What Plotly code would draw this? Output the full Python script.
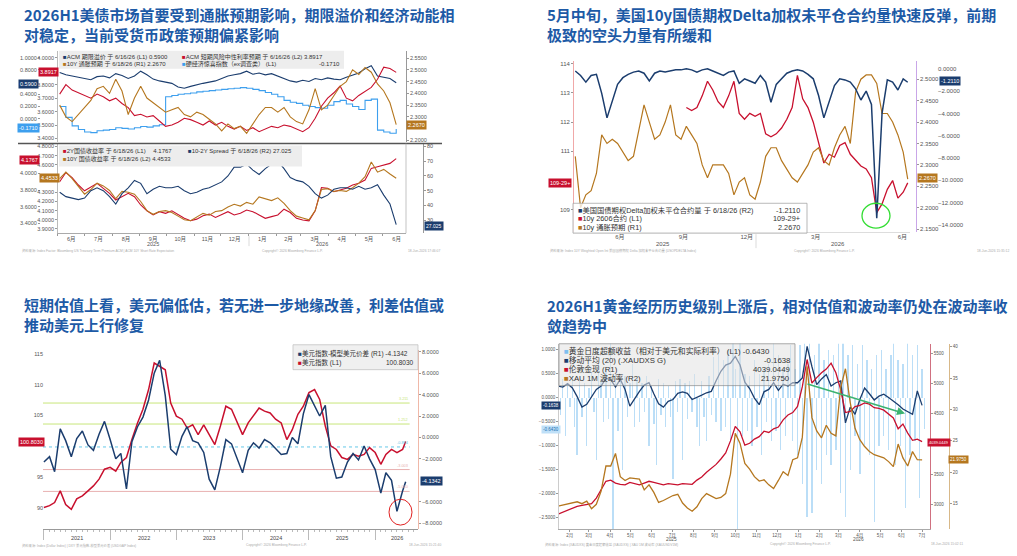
import plotly.graph_objects as go
import pandas as pd

W, H = 1017, 556

NAVY = "#1b3d6e"
RED = "#c8102e"
BROWN = "#b5771f"
LBLUE = "#3d9fee"
BARBLUE = "rgba(120,190,240,0.5)"
TITLE_C = "#1d5aa6"
FONT = "Liberation Sans, Noto Sans CJK SC, sans-serif"

# ---------------- panel 1 (top-left): weekly ----------------
p1_dates = pd.date_range("2025-06-03", periods=55, freq="7D")
p1_acm_tp = [0.76, 0.72, 0.70, 0.68, 0.66, 0.64, 0.69, 0.70, 0.67, 0.74,
             0.71, 0.66, 0.70, 0.78, 0.72, 0.65, 0.62, 0.60, 0.58, 0.52,
             0.50, 0.53, 0.56, 0.58, 0.60, 0.62, 0.66, 0.70, 0.72, 0.74,
             0.78, 0.73, 0.75, 0.72, 0.74, 0.70, 0.66, 0.62, 0.60, 0.63,
             0.61, 0.66, 0.64, 0.67, 0.65, 0.64, 0.68, 0.72, 0.75, 0.82,
             0.87, 0.70, 0.68, 0.66, 0.59]
p1_acm_sr = [3.73, 3.80, 3.76, 3.74, 3.72, 3.70, 3.73, 3.71, 3.68, 3.70,
             3.66, 3.63, 3.57, 3.58, 3.56, 3.57, 3.53, 3.49, 3.50, 3.52,
             3.55, 3.54, 3.52, 3.50, 3.53, 3.50, 3.52, 3.49, 3.47, 3.49,
             3.46, 3.48, 3.45, 3.47, 3.49, 3.48, 3.50, 3.49, 3.47, 3.45,
             3.48, 3.55, 3.64, 3.70, 3.74, 3.79, 3.70, 3.68, 3.72, 3.75,
             3.78, 3.84, 3.93, 3.92, 3.8917]
p1_be10 = [2.35, 2.30, 2.28, 2.31, 2.34, 2.37, 2.42, 2.43, 2.40, 2.46,
           2.41, 2.31, 2.38, 2.43, 2.38, 2.36, 2.34, 2.32, 2.33, 2.34,
           2.31, 2.30, 2.32, 2.31, 2.29, 2.27, 2.24, 2.27, 2.25, 2.26,
           2.23, 2.27, 2.31, 2.34, 2.34, 2.32, 2.34, 2.30, 2.28, 2.27,
           2.33, 2.42, 2.33, 2.35, 2.39, 2.43, 2.45, 2.50, 2.48, 2.51,
           2.49, 2.44, 2.41, 2.36, 2.267]
p1_hard = [0.20, 0.02, -0.12, -0.18, -0.22, -0.23, -0.20, -0.19, -0.18, -0.15,
           -0.16, -0.17, -0.15, -0.13, -0.14, -0.12, -0.10, 0.36, 0.38, 0.40,
           0.41, 0.42, 0.44, 0.45, 0.46, 0.47, 0.48, 0.49, 0.50, 0.51,
           0.50, 0.48, 0.46, 0.43, 0.40, 0.36, 0.30, 0.27, 0.25, 0.22,
           0.20, 0.18, 0.17, 0.22, 0.28, 0.30, 0.24, 0.20, 0.15, 0.30,
           0.32, -0.19, -0.22, -0.24, -0.171]
p1_y2 = [3.90, 4.01, 3.95, 3.86, 3.79, 3.84, 3.88, 3.82, 3.76, 3.68,
         3.72, 3.76, 3.72, 3.62, 3.55, 3.50, 3.54, 3.52, 3.55, 3.50,
         3.46, 3.43, 3.45, 3.49, 3.51, 3.47, 3.51, 3.54, 3.50, 3.52,
         3.56, 3.54, 3.50, 3.46, 3.48, 3.50, 3.57, 3.53, 3.46, 3.44,
         3.43, 3.55, 3.83, 3.82, 3.78, 3.80, 3.82, 3.86, 3.88, 3.92,
         4.06, 4.08, 4.10, 4.12, 4.1767]
p1_y10 = [4.45, 4.52, 4.45, 4.37, 4.28, 4.33, 4.40, 4.37, 4.32, 4.23,
          4.31, 4.30, 4.28, 4.20, 4.10, 4.06, 4.09, 4.10, 4.08, 4.04,
          4.00, 3.99, 4.03, 4.07, 4.05, 4.09, 4.10, 4.14, 4.17, 4.15,
          4.19, 4.17, 4.25, 4.23, 4.21, 4.24, 4.18, 4.10, 4.04, 4.02,
          4.00, 4.10, 4.33, 4.34, 4.31, 4.32, 4.31, 4.35, 4.40, 4.47,
          4.63, 4.52, 4.55, 4.50, 4.4533]
p1_spread = [49, 46, 45, 44, 45, 50, 52, 50, 46, 41,
             48, 52, 57, 55, 48, 51, 53, 52, 52, 53,
             50, 48, 49, 51, 52, 54, 56, 60, 66, 66,
             68, 64, 61, 65, 68, 70, 65, 59, 57, 56,
             53, 48, 45, 47, 51, 52, 52, 51, 53, 51,
             52, 54, 47, 41, 27.025]

# ---------------- panel 2 (top-right): weekly ----------------
p2_dates = list(pd.date_range("2025-04-04", periods=63, freq="7D")) + [pd.Timestamp("2026-06-18")]
p2_delta_oi = [-0.2, -0.6, -1.2, -0.6, -0.5, -2.2, -4.4, -3.0, -1.4, -0.8,
               -0.5, -0.3, -0.2, -0.4, -1.1, -0.4, -0.2, -0.3, -0.2, -0.1,
               -0.1, 0.0, -0.1, -0.3, -0.1, 0.0, -0.2, -0.4, -0.6, -0.3,
               -0.2, -1.3, -0.9, -1.1, -1.3, -0.6, -1.2, -3.0, -1.4, -0.9,
               -0.4, -0.2, -0.1, -0.2, -0.5, -0.9, -2.4, -4.4, -3.0, -1.5,
               -0.9, -1.0, -1.2, -1.8, -2.8, -2.0, -3.2, -13.4, -4.0, -1.0,
               -1.2, -1.9, -0.9, -1.211]
p2_fut = [None] * 21 + [
    112.5, 112.4, 112.5, 112.9, 113.4, 113.1, 112.7, 112.5, 112.9, 113.4,
    112.3, 112.1, 112.3, 112.2, 112.3, 111.6, 111.5, 111.6, 111.8, 112.1,
    112.5, 113.6, 112.8, 112.5, 112.0, 111.3, 110.6, 110.9, 110.8, 111.2,
    111.3, 110.9, 110.7, 110.5, 110.4, 110.1, 108.9, 109.2, 109.7, 110.0,
    109.4, 109.6, 109.92]
p2_be10 = [2.32, 2.20, 2.23, 2.24, 2.28, 2.37, 2.35, 2.36, 2.35, 2.33,
           2.31, 2.32, 2.38, 2.44, 2.40, 2.36, 2.37, 2.40, 2.44, 2.37,
           2.36, 2.39, 2.37, 2.35, 2.30, 2.27, 2.30, 2.30, 2.30, 2.28,
           2.23, 2.26, 2.27, 2.23, 2.22, 2.26, 2.32, 2.34, 2.34, 2.31,
           2.29, 2.27, 2.26, 2.28, 2.30, 2.33, 2.34, 2.31, 2.30, 2.34,
           2.37, 2.39, 2.35, 2.47, 2.50, 2.51, 2.51, 2.49, 2.42, 2.42,
           2.40, 2.37, 2.33, 2.267]
p2_tick_dates = ["2025-06-02", "2025-08-25", "2025-11-17", "2026-02-16", "2026-06-11"]
p2_tick_text = ["6月", "9月", "12月", "3月", "6月"]

# ---------------- panel 3 (bottom-left): monthly ----------------
p3_dates = list(pd.date_range("2021-01-01", periods=66, freq="MS")) + [pd.Timestamp("2026-06-18")]
p3_dxy = [90.1, 90.4, 90.9, 92.8, 90.6, 89.8, 91.5, 92.0, 92.8, 93.6,
          94.7, 96.3, 96.6, 96.0, 97.4, 98.2, 101.1, 103.8, 106.0, 109.2,
          113.5, 113.0, 112.4, 107.0, 104.9, 104.4, 103.0, 103.5, 101.9, 103.5,
          101.9, 100.3, 103.3, 106.5, 106.0, 104.1, 101.9, 103.8, 104.9, 106.2,
          105.7, 105.4, 104.4, 103.8, 101.1, 102.7, 105.2, 106.5, 108.7, 109.2,
          107.6, 103.3, 100.1, 99.5, 98.2, 97.9, 98.7, 98.4, 98.7, 99.8,
          99.0, 97.1, 98.7, 99.5, 99.0, 99.5, 100.803]
p3_gap = [-2.3, -1.8, -3.2, 0.8, -0.3, -1.8, -0.1, 0.6, -0.7, -1.2,
          0.3, 1.5, -0.2, -2.0, -1.5, -4.8, -0.4, 1.0, 1.9, 3.5,
          6.0, 7.2, 3.9, -1.1, -1.6, 0.1, 1.0, -0.3, -0.5, -1.4,
          -3.9, -4.9, -2.7, -0.2, -0.6, -2.0, -3.3, -1.2, -0.5, -1.0,
          -0.2, -0.5, -1.0, -1.6, -1.5, 0.0, -0.6, 2.2, 4.0, 2.9,
          2.0, 3.0, -1.8, -3.8, -3.7, -2.3, -1.5, -2.1, -0.8, -2.0,
          -3.0, -5.2, -3.3, -4.0, -6.9, -5.0, -4.1342]
p3_bands = [3.21, 1.25, -0.89, -3.00, -5.04]
p3_band_text = ["3.211", "1.252", "-0.894", "-3.003", "-5.040"]
p3_years = ["2021", "2022", "2023", "2024", "2025", "2026"]

# ---------------- panel 4 (bottom-right): weekly ----------------
p4_dates = pd.date_range("2025-01-15", periods=77, freq="7D")
p4_ma20 = [0.24, 0.22, 0.29, 0.20, 0.02, -0.20, -0.14, 0.03, 0.17, 0.24,
           0.40, 0.38, 0.22, 0.38, 0.17, -0.18, -0.01, 0.13, 0.26, 0.31,
           0.08, -0.13, -0.20, -0.08, -0.04, 0.09, 0.12, 0.09, -0.04, 0.00,
           0.05, 0.10, 0.13, 0.35, 0.55, 0.68, 0.72, 0.86, 0.68, 0.32,
           0.19, -0.01, -0.15, 0.12, 0.17, 0.31, 0.15, 0.28, 0.24, 0.31,
           0.31, 0.41, 1.07, 0.65, 0.27, 0.39, 0.48, 0.24, 0.31, 0.35,
           -0.53, -0.20, -0.35, -0.04, 0.20, 0.08, -0.05, 0.03, 0.07, 0.00,
           -0.07, -0.15, -0.24, -0.30, -0.35, 0.14, -0.1638]
p4_gold = [2835, 2870, 2900, 2940, 2965, 2980, 2990, 3010, 3100, 3240,
           3380, 3400, 3350, 3330, 3320, 3360, 3340, 3320, 3350, 3380,
           3360, 3340, 3320, 3340, 3330, 3320, 3340, 3330, 3330, 3400,
           3450, 3530, 3600, 3660, 3750, 3850, 4050, 4290, 4200, 3980,
           4010, 4080, 4120, 4210, 4190, 4250, 4280, 4400, 4480, 4520,
           4620, 4950, 5400, 5010, 5100, 5180, 5240, 5340, 5180, 4900,
           4520, 4540, 4620, 4640, 4680, 4660, 4600, 4590, 4560, 4500,
           4430, 4250, 4330, 4180, 4060, 4080, 4039.0449]
p4_vol = [14.6, 14.8, 15.0, 15.1, 15.3, 15.0, 15.4, 14.2, 14.9, 17.0,
          21.0, 21.0, 23.0, 19.3, 18.7, 19.1, 19.0, 18.9, 17.2, 18.0,
          16.8, 15.2, 15.5, 15.9, 16.3, 16.5, 15.1, 14.3, 13.8, 14.5,
          15.8, 16.6, 16.2, 15.8, 16.0, 16.6, 19.7, 26.2, 24.6, 21.4,
          20.5, 19.3, 18.6, 18.8, 18.0, 17.4, 18.7, 20.1, 19.5, 22.0,
          22.3, 25.6, 36.9, 28.7, 26.6, 25.5, 27.5, 26.2, 25.8, 33.5,
          36.5, 31.1, 27.0, 25.2, 24.1, 23.3, 22.8, 22.6, 22.3, 21.7,
          20.9, 24.5, 22.3, 21.0, 23.3, 22.0, 21.975]
p4_bar_dates = pd.date_range("2025-01-15", periods=154, freq="84h")
p4_excess = [0.25, -0.35, 0.40, -0.80, 0.30, -0.20, 0.45, -0.60, -1.20, 0.35,
             -0.40, 0.30, -1.00, 0.20, 0.55, -0.30, -1.30, 0.70, 0.40, -0.50,
             0.60, -0.45, 1.20, -2.80, 0.50, -0.70, 0.35, -1.50, 0.45, -0.40,
             0.30, 0.70, -0.60, 0.40, -0.50, 0.30, -0.30, 0.45, -1.00, 0.25,
             -0.55, -1.40, 0.40, -0.35, 0.30, -0.60, 0.25, -0.40, -1.70, 0.35,
             -0.30, 0.40, -1.30, 0.30, -0.45, 0.35, -0.30, 0.50, -0.60, -1.00,
             0.35, -0.40, -0.90, 0.45, -0.35, 0.85, -0.50, 0.95, -0.70, 0.80,
             -0.60, 1.00, -0.90, 1.20, 0.60, -2.90, 1.20, -0.80, 0.50, -0.70,
             0.45, -1.00, 0.80, -0.60, 0.50, -1.20, 0.60, -0.50, 0.70, -0.90,
             1.20, -0.70, 0.90, -1.10, 0.60, -0.80, 0.70, 1.10, -0.90, 0.60,
             -1.20, 1.10, -1.80, 1.20, -2.50, 1.20, -2.40, 0.90, -1.50, 1.20,
             -1.80, 0.80, -1.20, 1.00, -1.40, 0.90, -1.10, 1.20, -2.00, 1.20,
             -2.50, 0.90, -1.50, 1.10, -0.80, 0.70, -1.60, 1.10, -1.00, 0.80,
             -1.20, 0.60, -2.60, 0.90, -1.00, 1.00, -0.80, 0.60, -1.10, 0.90,
             1.20, -1.40, 0.80, -1.00, 0.70, -2.30, 1.20, -1.20, 0.90, -0.90,
             1.10, -2.10, 0.60, -0.643]


def px(x):
    return x / W


def py(y):
    return 1 - y / H


fig = go.Figure()


def line(x, y, xa, ya, color, width=1.0, shape="linear"):
    fig.add_trace(go.Scatter(x=x, y=y, xaxis=xa, yaxis=ya, mode="lines",
                             line=dict(color=color, width=width, shape=shape),
                             showlegend=False, hoverinfo="skip", connectgaps=False))


# panel 1 upper
line(p1_dates, p1_hard, "x", "y", LBLUE, 1.1, "hv")
line(p1_dates, p1_acm_tp, "x", "y", NAVY, 1.1)
line(p1_dates, p1_acm_sr, "x", "y2", RED, 1.1)
line(p1_dates, p1_be10, "x", "y3", BROWN, 1.1)
# panel 1 lower
line(p1_dates, p1_spread, "x2", "y6", NAVY, 1.1)
line(p1_dates, p1_y2, "x2", "y4", RED, 1.1)
line(p1_dates, p1_y10, "x2", "y5", BROWN, 1.1)
# panel 2
line(p2_dates, p2_be10, "x3", "y8", BROWN, 1.2)
line(p2_dates, p2_fut, "x3", "y7", RED, 1.3)
line(p2_dates, p2_delta_oi, "x3", "y9", NAVY, 1.5)
# panel 3
line(p3_dates, p3_gap, "x4", "y11", NAVY, 1.5)
line(p3_dates, p3_dxy, "x4", "y10", RED, 1.5)
# panel 4
fig.add_trace(go.Bar(x=p4_bar_dates, y=p4_excess, xaxis="x5", yaxis="y12",
                     marker=dict(color=BARBLUE, line=dict(width=0)),
                     width=2.0 * 86400000, showlegend=False, hoverinfo="skip"))
line(p4_dates, p4_ma20, "x5", "y12", NAVY, 1.3)
line(p4_dates, p4_gold, "x5", "y13", RED, 1.3)
line(p4_dates, p4_vol, "x5", "y14", BROWN, 1.3)


def yax(top, bottom, rng, pos, tickvals, fmt=".4f", side="left", overlay=None,
        linecolor=None, size=5.5, ticks="outside"):
    d = dict(range=rng, anchor="free", position=px(pos), side=side,
             tickmode="array", tickvals=tickvals, tickformat=fmt,
             showgrid=False, zeroline=False, ticks=ticks, ticklen=2, tickwidth=0.6,
             tickcolor="#999", tickfont=dict(family=FONT, size=size, color="#555"),
             showline=linecolor is not None, linecolor=linecolor or "#999", linewidth=0.8)
    if overlay:
        d["overlaying"] = overlay
    else:
        d["domain"] = [py(bottom), py(top)]
    return d


xtick = dict(family=FONT, size=5.5, color="#555")
p1_range = ["2025-05-31", "2026-06-27"]

layout = dict(
    width=W, height=H, margin=dict(l=0, r=0, t=0, b=0),
    paper_bgcolor="white", plot_bgcolor="white", showlegend=False, bargap=0,
    xaxis=dict(domain=[px(57), px(406)], range=p1_range, anchor="y", showticklabels=False,
               showgrid=False, zeroline=False, ticks="", showline=False),
    yaxis=yax(50, 142, [-0.393, 1.115], 40, [0, 0.2, 0.4, 0.8, 1.0]),
    yaxis2=yax(0, 0, [3.370, 4.052], 57, [3.4, 3.5, 3.6, 3.7, 3.8, 4.0], overlay="y",
               linecolor="#bbb"),
    yaxis3=yax(0, 0, [2.191, 2.581], 406, [2.20, 2.30, 2.35, 2.40, 2.45, 2.50, 2.55],
               side="right", overlay="y", linecolor="#999"),
    xaxis2=dict(domain=[px(57), px(406)], range=p1_range, anchor="y4", tick0="2025-06-01",
                dtick="M1", ticklabelmode="period", tickformat="%-m月", ticks="outside",
                ticklen=2, tickcolor="#999", showline=True, linecolor="#aaa", linewidth=0.8,
                showgrid=False, zeroline=False, tickfont=xtick, ticklabelstandoff=-2),
    yaxis4=yax(143, 233, [3.2814, 4.359], 40, [3.4, 3.6, 3.8, 4.0]),
    yaxis5=yax(0, 0, [3.8543, 4.8326], 57, [3.9, 4.0, 4.1, 4.2, 4.3, 4.6, 4.7, 4.8],
               overlay="y4", linecolor="#bbb"),
    yaxis6=yax(0, 0, [21.22, 82.03], 423, [30, 40, 50, 60, 70, 80], fmt="d", side="right",
               overlay="y4", linecolor="#999"),
    xaxis3=dict(domain=[px(573), px(910)], range=["2025-04-01", "2026-06-21"], anchor="y7",
                tickmode="array", tickvals=p2_tick_dates, ticktext=p2_tick_text, ticks="",
                showline=True, linecolor="#ddd", linewidth=0.8, showgrid=False,
                zeroline=False, tickfont=dict(family=FONT, size=6, color="#555"),
                ticklabelstandoff=-1),
    yaxis7=yax(60, 232, [108.232, 114.102], 573, [109, 111, 112, 113, 114], fmt="d",
               linecolor="#f0a8a8", size=6),
    yaxis8=yax(0, 0, [2.143, 2.543], 916, [2.15, 2.20, 2.25, 2.30, 2.35, 2.40, 2.45, 2.50, 2.55],
               side="right", overlay="y7", linecolor="#c9a6e8", size=6),
    yaxis9=yax(0, 0, [-14.64, 0.714], 937, [0, -2, -4, -6, -8, -10, -12, -14], side="right",
               overlay="y7", size=6, ticks=""),
    xaxis4=dict(domain=[px(43), px(418)], range=["2020-12-27", "2026-08-25"], anchor="y10",
                tick0="2021-01-01", dtick="M12", showticklabels=False, ticks="outside",
                ticklen=10, tickcolor="#bbb", showline=True, linecolor="#999", linewidth=0.8,
                showgrid=False, zeroline=False,
                minor=dict(dtick="M1", ticks="outside", ticklen=2, tickcolor="#bbb")),
    yaxis10=yax(350, 530, [86.61, 115.645], 43, [90, 95, 105, 110, 115], fmt="d",
                ticks=""),
    yaxis11=yax(0, 0, [-8.558, 8.186], 418, [-8, -6, -2, 0, 2, 4, 6, 8], side="right",
                overlay="y10", linecolor="#f0b8a8"),
    xaxis5=dict(domain=[px(558), px(931)], range=["2025-01-15", "2026-07-14"], anchor="y12",
                tick0="2025-02-01", dtick="M1", tickformat="%-m月", ticks="outside", ticklen=2,
                tickcolor="#999", showline=True, linecolor="#aaa", linewidth=0.8,
                showgrid=False, zeroline=False, tickfont=dict(family=FONT, size=4.5, color="#555")),
    yaxis12=yax(344, 530, [-2.75, 1.125], 558, [-2.5, -2.0, -1.5, -1.0, -0.5, 0, 0.5, 1.0],
                linecolor="#ccc", size=4.5),
    yaxis13=yax(0, 0, [2587, 5661], 930, [3000, 3500, 4500, 5000, 5500], fmt="d",
                side="right", overlay="y12", linecolor="#d07080", size=4.5),
    yaxis14=yax(0, 0, [10.95, 40.476], 949, [15, 20, 25, 30, 35, 40], fmt="d", side="right",
                overlay="y12", linecolor="#d8b888", size=4.5),
)
fig.update_layout(**layout)

shapes = []
ann = []


def sq(c):
    return f"<span style='color:{c}'>■</span>"


def txt(text, x, y, size=6, color="#333", xanchor="left", yanchor="middle", family=FONT):
    ann.append(dict(text=text, x=px(x), y=py(y), xref="paper", yref="paper", showarrow=False,
                    xanchor=xanchor, yanchor=yanchor,
                    font=dict(family=family, size=size, color=color)))


def tag(text, x, y, bg, fc="white", size=5.5):
    ann.append(dict(text=text, x=px(x), y=py(y), xref="paper", yref="paper", showarrow=False,
                    xanchor="center", yanchor="middle", bgcolor=bg, borderpad=1,
                    font=dict(family=FONT, size=size, color=fc)))


def rect(x0, y0, x1, y1, fill, line_c=None, lw=0.7):
    shapes.append(dict(type="rect", xref="paper", yref="paper", x0=px(x0), x1=px(x1),
                       y0=py(y1), y1=py(y0), fillcolor=fill, layer="above",
                       line=dict(color=line_c or "rgba(0,0,0,0)", width=lw if line_c else 0)))


def hline(x0, x1, y, color, width=1.0):
    shapes.append(dict(type="line", xref="paper", yref="paper", x0=px(x0), x1=px(x1),
                       y0=py(y), y1=py(y), line=dict(color=color, width=width)))


def vline(x, y0, y1, color, width=0.7):
    shapes.append(dict(type="line", xref="paper", yref="paper", x0=px(x), x1=px(x),
                       y0=py(y0), y1=py(y1), line=dict(color=color, width=width)))


# ---- titles ----
TFONT = "Noto Sans CJK SC, sans-serif"
for x, y, t in [
    (22, 1, "2026H1美债市场首要受到通胀预期影响，期限溢价和经济动能相<br>对稳定，当前受货币政策预期偏紧影响"),
    (545, 1, "5月中旬，美国10y国债期权Delta加权未平仓合约量快速反弹，前期<br>极致的空头力量有所缓和"),
    (22, 292, "短期估值上看，美元偏低估，若无进一步地缘改善，利差估值或<br>推动美元上行修复"),
    (545, 293, "2026H1黄金经历历史级别上涨后，相对估值和波动率仍处在波动率收<br>敛趋势中"),
]:
    ann.append(dict(text=f"<b>{t}</b>", x=px(x), y=py(y), xref="paper", yref="paper",
                    showarrow=False, xanchor="left", yanchor="top", align="left",
                    font=dict(family=TFONT, size=15, color=TITLE_C)))

# ---- panel 1 decorations ----
hline(18, 442, 143, "#555", 1.3)
vline(406, 143, 233, "#aaa", 0.7)
rect(59, 50, 344, 68, "#ededed")
txt(sq(NAVY) + "ACM 期限溢价 于 6/16/26 (L1) 0.5900", 61, 56.5)
txt(sq(RED) + "ACM 短期风险中性利率预期 于 6/16/26 (L2) 3.8917", 180, 56.5)
txt(sq(BROWN) + "10Y 通胀预期 于 6/18/26 (R1) 2.2670", 61, 63.5)
txt(sq(LBLUE) + "硬经济惊喜指数（ex调查类） (L1)", 180, 63.5)
txt("-0.1710", 342, 63.5, xanchor="right")
rect(59, 145, 302, 166, "#ededed")
txt(sq(RED) + "2Y国债收益率 于 6/18/26 (L1)　 4.1767", 61, 151)
txt(sq(NAVY) + "10-2Y Spread 于 6/18/26 (R2) 27.025", 186, 151)
txt(sq(BROWN) + "10Y 国债收益率 于 6/18/26 (L2) 4.4533", 61, 159)
tag("3.8917", 48.5, 71, RED)
tag("0.5900", 28, 83, NAVY)
tag("-0.1710", 28, 127, LBLUE)
tag("2.2670", 416, 124, BROWN)
tag("4.1767", 29.5, 160, RED)
tag("4.4533", 49, 178, BROWN)
tag("27.025", 434, 226, NAVY, size=5)
txt("2025", 153, 244, 5.5, "#555", "center")
txt("2026", 322, 244, 5.5, "#555", "center")
vline(249, 236, 246, "#ccc")
txt("资料来源: Index Factor: Bloomberg US Treasury Term Premium ACM | ACM 10Y Short Rate Expectation", 20, 250.5, 3.3, "#aaa")
txt("Copyright© 2026 Bloomberg Finance L.P.", 292, 250.5, 3.3, "#aaa", "center")
txt("18-Jun-2026 17:46:07", 442, 250.5, 3.3, "#aaa", "right")

# ---- panel 2 decorations ----
rect(573, 203, 807, 233, "rgba(255,255,255,0.78)", "#999")
txt(sq(NAVY) + "美国国债期权Delta加权未平仓合约量 于 6/18/26 (R2)", 576, 210, 7.3)
txt("-1.2110", 802, 210, 7.3, xanchor="right")
txt(sq(RED) + "10y 2606合约 (L1)", 576, 218.5, 7.3)
txt("109-29+", 802, 218.5, 7.3, xanchor="right")
txt(sq(BROWN) + "10y 通胀预期 (R1)", 576, 227, 7.3)
txt("2.2670", 802, 227, 7.3, xanchor="right")
shapes.append(dict(type="circle", xref="paper", yref="paper", x0=px(862), x1=px(890),
                   y0=py(228), y1=py(203), line=dict(color="#33dd33", width=1.3)))
tag("-1.2110", 950, 80, NAVY, size=5.5)
tag("2.2670", 927, 178, BROWN, size=5.5)
tag("109-29+", 559.5, 183, RED, size=5.5)
txt("2025", 663, 244, 6, "#555", "center")
txt("2026", 838, 244, 6, "#555", "center")
vline(756, 234, 248, "#ccc")
txt("资料来源: Index 10Y Weighted Open Int 美国国债期权 Delta 加权未平仓合约量 (USOPDELTA Index)", 548, 250.5, 3.3, "#aaa")
txt("Copyright© 2026 Bloomberg Finance L.P.", 824, 250.5, 3.3, "#aaa", "center")
txt("18-Jun-2026 15:35:12", 1011, 250.5, 3.3, "#aaa", "right")

# ---- panel 3 decorations ----
band_colors = ["#c8e67a", "#c8e67a", "#66c8e8", "#e8b0b0", "#e8b0b0"]
for v, lab, c in zip(p3_bands, p3_band_text, band_colors):
    shapes.append(dict(type="line", xref="x4", yref="y11", x0="2020-12-27", x1="2026-07-10",
                       y0=v, y1=v, layer="below",
                       line=dict(color=c, width=1.0, dash="dot" if c == "#66c8e8" else "solid")))
    ann.append(dict(text=lab, x="2026-07-10", y=v, xref="x4", yref="y11", showarrow=False,
                    xanchor="right", yanchor="bottom", font=dict(family=FONT, size=3.8, color=c)))
rect(293, 345, 418, 370, "#f0f0f0", "#bbb")
txt(sq(NAVY) + "美元指数-模型美元价差 (R1) -4.1342", 296, 353.5, 6.5)
txt(sq(RED) + "美元指数 (L1)", 296, 362.5, 6.5)
txt("100.8030", 415, 362.5, 6.5, xanchor="right")
shapes.append(dict(type="circle", xref="paper", yref="paper", x0=px(389), x1=px(412),
                   y0=py(526), y1=py(500), line=dict(color="#e02020", width=1.0)))
tag("100.8030", 31, 443, RED)
tag("-4.1342", 431, 482, NAVY)
for yr, xp in zip(p3_years, [77, 144, 209, 276, 342, 397]):
    txt(yr, xp, 539, 5.5, "#444", "center")
txt("资料来源: Index (Dollar Index) | DXY 美元指数-模型美元价差 (USDGAP Index)", 20, 546, 3.3, "#aaa")
txt("Copyright© 2026 Bloomberg Finance L.P.", 276, 546, 3.3, "#aaa", "center")
txt("18-Jun-2026 15:21:40", 443, 546, 3.3, "#aaa", "right")

# ---- panel 4 decorations ----
rect(559, 344, 795, 386, "rgba(225,225,225,0.55)", "#888")
txt(sq("#7ec0f0") + "黄金日度超额收益（相对于美元和实际利率） (L1) -0.6430", 562, 351.5, 7.8)
txt(sq(NAVY) + "移动平均 (20) (.XAUDXS G)", 562, 360.5, 7.8)
txt("-0.1638", 792, 360.5, 7.8, xanchor="right")
txt(sq(RED) + "伦敦金现 (R1)", 562, 369.5, 7.8)
txt("4039.0449", 792, 369.5, 7.8, xanchor="right")
txt(sq(BROWN) + "XAU 1M 波动率 (R2)", 562, 378.5, 7.8)
txt("21.9750", 792, 378.5, 7.8, xanchor="right")
ann.append(dict(text="", x=px(905), y=py(414), ax=-99, ay=-30, xref="paper",
                yref="paper", axref="pixel", ayref="pixel", showarrow=True, arrowhead=2,
                arrowsize=1, arrowwidth=1.6, arrowcolor="#3cb371"))
tag("-0.1638", 551, 406, NAVY, size=4.5)
tag("-0.6430", 551, 430, "#bfe0f8", fc="#2070b0", size=4.5)
tag("4039.0449", 939, 443, RED, size=4)
tag("21.9750", 958, 460, BROWN, size=4.5)
txt("2025", 671, 540, 4.8, "#555", "center")
txt("2026", 858, 540, 4.8, "#555", "center")
txt("资料来源: Index (XAUDXS) 黄金日度超额收益 (XAUDXS) | XAU 1M 波动率 (XAUUSDV1M)", 543, 545, 3.3, "#aaa")
txt("Copyright© 2026 Bloomberg Finance L.P.", 800, 545, 3.3, "#aaa", "center")
txt("18-Jun-2026 15:02:11", 965, 545, 3.3, "#aaa", "right")

fig.update_layout(shapes=shapes, annotations=ann)

fig.write_html("out.html", config={"displayModeBar": False},
               post_script="document.body.style.margin='0';document.body.style.overflow='hidden';")
